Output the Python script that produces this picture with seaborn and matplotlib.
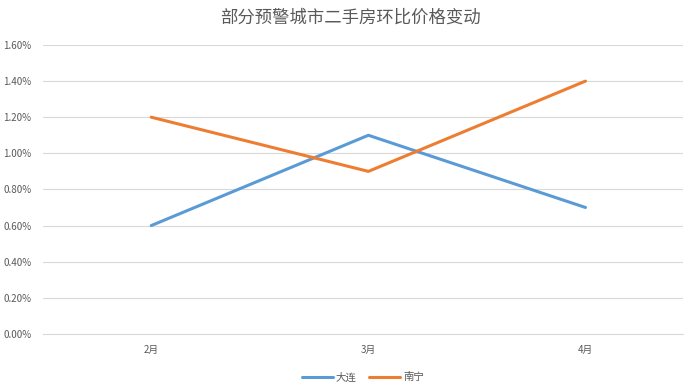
# chart: second-hand housing month-on-month price change

import pandas as pd
import matplotlib.pyplot as plt
import seaborn as sns
from matplotlib.ticker import PercentFormatter

# data
months = ['2月', '3月', '4月']
dalian = [0.60, 1.10, 0.70]
nanning = [1.20, 0.90, 1.40]
series_names = ['大连', '南宁']
y_ticks = [0.0, 0.2, 0.4, 0.6, 0.8, 1.0, 1.2, 1.4, 1.6]

sns.set_style('white')
plt.rcParams['font.family'] = ['Noto Sans CJK SC', 'DejaVu Sans']

df = pd.DataFrame({
    'month': months * 2,
    'x': list(range(len(months))) * 2,
    'value': dalian + nanning,
    'city': [series_names[0]] * 3 + [series_names[1]] * 3,
})

fig = plt.figure(figsize=(7, 3.91), dpi=100)
ax = fig.add_axes([0.061, 0.146, 0.915, 0.739])

sns.lineplot(data=df, x='x', y='value', hue='city', palette=['#5B9BD5', '#ED7D31'],
             linewidth=2.2, ax=ax, legend=True)

ax.set_xlim(-0.5, 2.45)
ax.set_ylim(0, 1.6)
ax.set_yticks(y_ticks)
ax.yaxis.set_major_formatter(PercentFormatter(decimals=2))
ax.set_xticks(range(len(months)))
ax.set_xticklabels(months)
ax.grid(axis='y', color='#D9D9D9', linewidth=0.8)
ax.set_axisbelow(True)
for s in ['top', 'right', 'left']:
    ax.spines[s].set_visible(False)
ax.spines['bottom'].set_color('#D9D9D9')
ax.tick_params(axis='both', length=0, labelsize=7, colors='#595959', pad=8)
ax.set_xlabel('')
ax.set_ylabel('')

# title centred on the figure
fig.suptitle('部分预警城市二手房环比价格变动', x=0.5, y=0.978, fontsize=12.5, color='#595959')

ax.legend(loc='upper center', bbox_to_anchor=(0.5, -0.1), ncol=2, frameon=False,
          fontsize=7.5, labelcolor='#595959', handlelength=3, columnspacing=1.2,
          handletextpad=0.3)

fig.savefig('out.png', dpi=100)
